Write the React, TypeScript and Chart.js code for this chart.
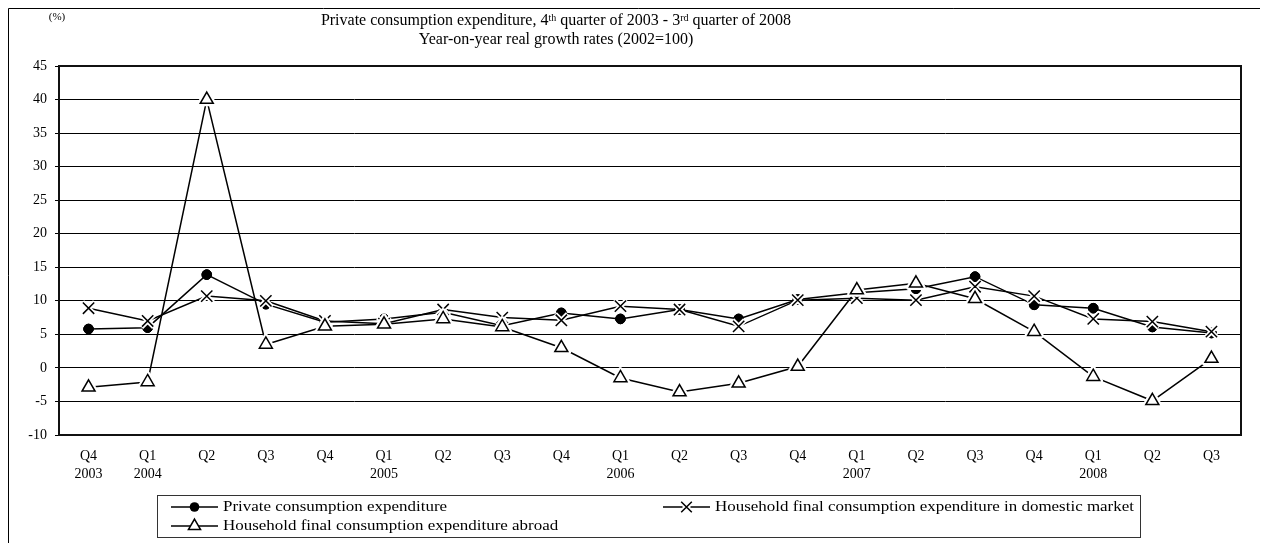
import React, { useEffect, useRef } from 'react';
import { Chart, registerables } from 'chart.js';

Chart.register(...registerables);

// ---------- data ----------
const quarters = ['Q4', 'Q1', 'Q2', 'Q3', 'Q4', 'Q1', 'Q2', 'Q3', 'Q4', 'Q1', 'Q2', 'Q3', 'Q4', 'Q1', 'Q2', 'Q3', 'Q4', 'Q1', 'Q2', 'Q3'];
const years = ['2003', '2004', '', '', '', '2005', '', '', '', '2006', '', '', '', '2007', '', '', '', '2008', '', ''];

const privateConsumption = [5.8, 6.0, 13.9, 9.5, 6.8, 7.3, 8.3, 6.3, 8.2, 7.3, 8.7, 7.3, 10.2, 11.2, 11.8, 13.6, 9.4, 8.9, 6.1, 5.2];
const domesticMarket = [8.9, 7.0, 10.7, 10.0, 7.0, 6.6, 8.7, 7.5, 7.1, 9.2, 8.7, 6.2, 10.1, 10.4, 10.1, 12.1, 10.7, 7.3, 6.9, 5.4];
const abroad = [-2.9, -2.1, 40.0, 3.5, 6.2, 6.5, 7.3, 6.1, 3.0, -1.5, -3.6, -2.3, 0.2, 11.6, 12.6, 10.3, 5.4, -1.3, -4.9, 1.4];

const seriesNames = [
  'Private consumption expenditure',
  'Household final consumption expenditure in domestic market',
  'Household final consumption expenditure abroad',
];

const yMin = -10;
const yMax = 45;
const yStep = 5;

const titleLine1 = [
  { t: 'Private consumption expenditure, 4', sup: false },
  { t: 'th', sup: true },
  { t: ' quarter of 2003 - 3', sup: false },
  { t: 'rd', sup: true },
  { t: ' quarter of 2008', sup: false },
];
const titleLine2 = 'Year-on-year real growth rates (2002=100)';
const unitLabel = '(%)';

const SERIF = '"Liberation Serif", "Times New Roman", serif';

type Style = 'circle' | 'crossRot' | 'triangle';

function markerPath(ctx: CanvasRenderingContext2D, style: Style, x: number, y: number, r: number) {
  ctx.beginPath();
  if (style === 'circle') {
    ctx.arc(x, y, r, 0, Math.PI * 2);
  } else if (style === 'triangle') {
    ctx.moveTo(x, y - r);
    ctx.lineTo(x + 0.866 * r, y + 0.5 * r);
    ctx.lineTo(x - 0.866 * r, y + 0.5 * r);
    ctx.closePath();
  } else {
    const d = r * 0.707;
    ctx.moveTo(x - d, y - d);
    ctx.lineTo(x + d, y + d);
    ctx.moveTo(x + d, y - d);
    ctx.lineTo(x - d, y + d);
  }
}

function drawMarker(ctx: CanvasRenderingContext2D, style: Style, x: number, y: number, r: number) {
  ctx.save();
  ctx.strokeStyle = '#000';
  ctx.lineWidth = 1.5;
  markerPath(ctx, style, x, y, r);
  if (style === 'circle') {
    ctx.fillStyle = '#000';
    ctx.fill();
  } else if (style === 'triangle') {
    ctx.fillStyle = '#fff';
    ctx.fill();
    ctx.stroke();
  } else {
    ctx.stroke();
  }
  ctx.restore();
}

function textW(ctx: CanvasRenderingContext2D, text: string, size: number) {
  ctx.font = `${size}px ${SERIF}`;
  return ctx.measureText(text).width;
}

function drawText(ctx: CanvasRenderingContext2D, text: string, x: number, y: number, size: number, align: 'left' | 'center' | 'right', sx = 1) {
  ctx.save();
  ctx.font = `${size}px ${SERIF}`;
  ctx.textBaseline = 'middle';
  ctx.fillStyle = '#000';
  const w = ctx.measureText(text).width * sx;
  const left = align === 'center' ? x - w / 2 : align === 'right' ? x - w : x;
  ctx.translate(left, y);
  ctx.scale(sx, 1);
  ctx.textAlign = 'left';
  ctx.fillText(text, 0, 0);
  ctx.restore();
}

const styles: Style[] = ['circle', 'crossRot', 'triangle'];
const radii = [4.8, 8, 7.5];

export default function App() {
  const ref = useRef<HTMLCanvasElement>(null);

  useEffect(() => {
    document.documentElement.style.overflow = 'hidden';
    const canvas = ref.current!;

    const decor = {
      id: 'decor',
      beforeDatasetsDraw(chart: any) {
        const { ctx, chartArea: a } = chart;
        ctx.save();
        ctx.strokeStyle = '#111';
        ctx.lineWidth = 2;
        ctx.strokeRect(a.left, a.top, a.right - a.left, a.bottom - a.top);
        ctx.restore();
      },
      afterDatasetsDraw(chart: any) {
        const ctx: CanvasRenderingContext2D = chart.ctx;
        // white halos round the open markers, then the markers on top
        for (let d = 0; d < chart.data.datasets.length; d++) {
          const meta = chart.getDatasetMeta(d);
          const st = styles[d];
          meta.data.forEach((el: any) => {
            if (st !== 'circle') {
              ctx.save();
              ctx.strokeStyle = '#fff';
              ctx.lineWidth = 5;
              ctx.lineJoin = 'round';
              markerPath(ctx, st, el.x, el.y, radii[d] + 0.8);
              ctx.stroke();
              ctx.restore();
            }
            el.draw(ctx, chart.chartArea);
          });
        }
      },
      afterDraw(chart: any) {
        const ctx: CanvasRenderingContext2D = chart.ctx;
        const W = chart.width;
        const H = chart.height;
        // outer frame (top and left edges visible)
        ctx.save();
        ctx.strokeStyle = '#000';
        ctx.lineWidth = 1;
        ctx.beginPath();
        ctx.moveTo(0.5, H);
        ctx.lineTo(0.5, 0.5);
        ctx.lineTo(W, 0.5);
        ctx.stroke();
        ctx.restore();

        // title
        const tx = 548;
        const tSize = 16;
        const supSize = 10;
        let total = 0;
        titleLine1.forEach((s) => (total += textW(ctx, s.t, s.sup ? supSize : tSize)));
        let x = tx - total / 2;
        titleLine1.forEach((s) => {
          const size = s.sup ? supSize : tSize;
          drawText(ctx, s.t, x, s.sup ? 10 : 13, size, 'left');
          x += textW(ctx, s.t, size);
        });
        drawText(ctx, titleLine2, tx, 32, tSize, 'center');

        // unit
        drawText(ctx, unitLabel, 49, 9, 11, 'center');

        // legend
        const bx = 149.5, by = 487.5, bw = 983, bh = 42;
        ctx.save();
        ctx.strokeStyle = '#333';
        ctx.lineWidth = 1;
        ctx.strokeRect(bx, by, bw, bh);
        ctx.restore();
        const entries = [
          { x0: 163, y: 499 },
          { x0: 655, y: 499 },
          { x0: 163, y: 518 },
        ];
        entries.forEach((e, i) => {
          ctx.save();
          ctx.strokeStyle = '#000';
          ctx.lineWidth = 1.5;
          ctx.beginPath();
          ctx.moveTo(e.x0, e.y);
          ctx.lineTo(e.x0 + 47, e.y);
          ctx.stroke();
          ctx.restore();
          if (i === 1) {
            ctx.save();
            ctx.strokeStyle = '#fff';
            ctx.lineWidth = 5;
            markerPath(ctx, styles[i], e.x0 + 23.5, e.y, radii[i] + 0.8);
            ctx.stroke();
            ctx.restore();
          }
          drawMarker(ctx, styles[i], e.x0 + 23.5, e.y, i === 0 ? radii[i] : radii[i] - 0.5);
          drawText(ctx, seriesNames[i], e.x0 + 52, e.y, 15, 'left', 1.13);
        });
      },
    };

    const common = {
      borderColor: '#000',
      borderWidth: 1.5,
      tension: 0,
      fill: false,
      pointBorderColor: '#000',
      pointBorderWidth: 1.5,
    };

    const chart = new Chart(canvas, {
      type: 'line',
      data: {
        labels: quarters.map((q, i) => [q, years[i]]),
        datasets: [
          { ...common, label: seriesNames[0], data: privateConsumption, pointStyle: 'circle', pointRadius: radii[0], backgroundColor: '#000', pointBackgroundColor: '#000', pointBorderWidth: 1 },
          { ...common, label: seriesNames[1], data: domesticMarket, pointStyle: 'crossRot', pointRadius: radii[1], backgroundColor: '#fff', pointBackgroundColor: '#fff' },
          { ...common, label: seriesNames[2], data: abroad, pointStyle: 'triangle', pointRadius: radii[2], backgroundColor: '#fff', pointBackgroundColor: '#fff' },
        ],
      },
      options: {
        responsive: false,
        animation: false,
        devicePixelRatio: 1,
        layout: { padding: { top: 58, right: 27, left: 0, bottom: 0 } },
        plugins: {
          legend: { display: false },
          title: { display: false },
          tooltip: { enabled: false },
        },
        scales: {
          x: {
            offset: true,
            grid: { display: false },
            border: { display: false },
            ticks: {
              color: '#000',
              font: { family: SERIF, size: 14, lineHeight: 1.3 },
              padding: 4,
              autoSkip: false,
              maxRotation: 0,
              minRotation: 0,
            },
            afterFit: (s: any) => {
              s.height = 108;
            },
          },
          y: {
            min: yMin,
            max: yMax,
            border: { display: false },
            grid: { color: '#000', lineWidth: 1, drawTicks: true, tickLength: 4, tickColor: '#000' },
            ticks: {
              stepSize: yStep,
              color: '#000',
              font: { family: SERIF, size: 14 },
              padding: 8,
            },
            afterFit: (s: any) => {
              s.width = 51;
            },
          },
        },
      },
      plugins: [decor],
    } as any);

    return () => chart.destroy();
  }, []);

  return <canvas ref={ref} width={1260} height={535} style={{ display: 'block' }} />;
}
